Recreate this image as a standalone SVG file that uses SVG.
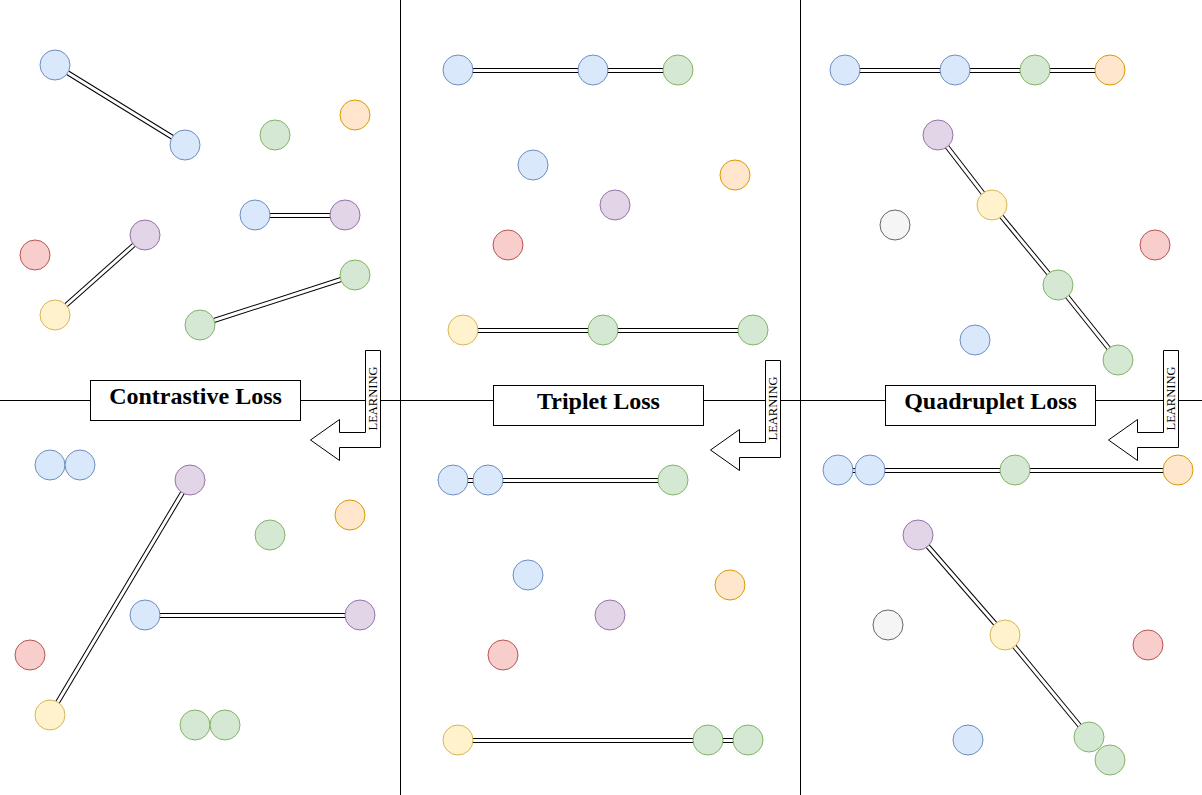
<svg xmlns="http://www.w3.org/2000/svg" xmlns:xlink="http://www.w3.org/1999/xlink" width="1202" height="795" viewBox="0 0 1202 795">
<style>
.sep{stroke:#000;stroke-width:1;fill:none}
.box{fill:#fff;stroke:#000;stroke-width:1}
.title{font-family:"Liberation Serif","Times New Roman",serif;font-weight:bold;font-size:24px;fill:#000;text-anchor:middle}
.arrow{fill:#fff;stroke:#000;stroke-width:1;stroke-linejoin:miter}
.learn{font-family:"Liberation Serif","Times New Roman",serif;font-size:12.5px;fill:#000;text-anchor:middle;dominant-baseline:central}
.lo{stroke:#000;stroke-width:5;fill:none}
.li{stroke:#fff;stroke-width:3;fill:none}
circle{stroke-width:1}
.b{fill:#dae8fc;stroke:#6c8ebf}
.g{fill:#d5e8d4;stroke:#82b366}
.o{fill:#ffe6cc;stroke:#d79b00}
.r{fill:#f8cecc;stroke:#b85450}
.p{fill:#e1d5e7;stroke:#9673a6}
.y{fill:#fff2cc;stroke:#d6b656}
.k{fill:#f5f5f5;stroke:#666666}
</style>
<defs>
<path id="arr" d="M365.5,350.5 H380.5 V447.5 H339.5 V460.5 L310.5,440 L339.5,419.5 V432.5 H365.5 Z"/>
<g id="links">
<path d="M55,65 L185,145"/>
<path d="M255,215.5 L345,215.5"/>
<path d="M145,235 L55,315"/>
<path d="M355,275 L200,325"/>
<path d="M190,480 L50,715"/>
<path d="M145,615.5 L360,615.5"/>
<path d="M458,70.5 L593,70.5 L678,70.5"/>
<path d="M463,330.5 L603,330.5 L753,330.5"/>
<path d="M453,480.5 L488,480.5 L673,480.5"/>
<path d="M458,740.5 L708,740.5 L748,740.5"/>
<path d="M845,70.5 L955,70.5 L1035,70.5 L1110,70.5"/>
<path d="M938,135 L992,205"/>
<path d="M992,205 L1058,285"/>
<path d="M1058,285 L1118,360"/>
<path d="M838,470.5 L870,470.5 L1015,470.5 L1178,470.5"/>
<path d="M918,535 L1005,635"/>
<path d="M1005,635 L1089,737"/>
</g>
</defs>
<rect width="1202" height="795" fill="#fff"/>
<g id="separators">
<line class="sep" x1="0" y1="400.5" x2="1202" y2="400.5"/>
<line class="sep" x1="400.5" y1="0" x2="400.5" y2="795"/>
<line class="sep" x1="800.5" y1="0" x2="800.5" y2="795"/>
</g>
<g id="label-contrastive">
<rect class="box" x="90.5" y="380.5" width="210" height="40"/>
<text class="title" x="195.5" y="404">Contrastive Loss</text>
</g>
<g id="label-triplet">
<rect class="box" x="493.5" y="385.5" width="210" height="40"/>
<text class="title" x="598.5" y="409">Triplet Loss</text>
</g>
<g id="label-quadruplet">
<rect class="box" x="885.5" y="385.5" width="210" height="40"/>
<text class="title" x="990.5" y="409">Quadruplet Loss</text>
</g>
<g id="arrow-1">
<use xlink:href="#arr" class="arrow"/>
<text class="learn" transform="translate(373,398.5) rotate(-90)">LEARNING</text>
</g>
<g id="arrow-2">
<use xlink:href="#arr" class="arrow" transform="translate(400,10)"/>
<text class="learn" transform="translate(773,408.5) rotate(-90)">LEARNING</text>
</g>
<g id="arrow-3">
<use xlink:href="#arr" class="arrow" transform="translate(798,0)"/>
<text class="learn" transform="translate(1171,398.5) rotate(-90)">LEARNING</text>
</g>
<g id="connectors">
<use xlink:href="#links" class="lo"/>
<use xlink:href="#links" class="li"/>
</g>
<g id="c1"><circle class="b" cx="55" cy="65" r="15"/></g>
<g id="c2"><circle class="b" cx="185" cy="145" r="15"/></g>
<g id="c3"><circle class="g" cx="275" cy="135" r="15"/></g>
<g id="c4"><circle class="o" cx="355" cy="115" r="15"/></g>
<g id="c5"><circle class="b" cx="255" cy="215" r="15"/></g>
<g id="c6"><circle class="p" cx="345" cy="215" r="15"/></g>
<g id="c7"><circle class="p" cx="145" cy="235" r="15"/></g>
<g id="c8"><circle class="r" cx="35" cy="255" r="15"/></g>
<g id="c9"><circle class="y" cx="55" cy="315" r="15"/></g>
<g id="c10"><circle class="g" cx="355" cy="275" r="15"/></g>
<g id="c11"><circle class="g" cx="200" cy="325" r="15"/></g>
<g id="c12"><circle class="b" cx="50" cy="465" r="15"/></g>
<g id="c13"><circle class="b" cx="80" cy="465" r="15"/></g>
<g id="c14"><circle class="p" cx="190" cy="480" r="15"/></g>
<g id="c15"><circle class="o" cx="350" cy="515" r="15"/></g>
<g id="c16"><circle class="g" cx="270" cy="535" r="15"/></g>
<g id="c17"><circle class="b" cx="145" cy="615" r="15"/></g>
<g id="c18"><circle class="p" cx="360" cy="615" r="15"/></g>
<g id="c19"><circle class="r" cx="30" cy="655" r="15"/></g>
<g id="c20"><circle class="y" cx="50" cy="715" r="15"/></g>
<g id="c21"><circle class="g" cx="195" cy="725" r="15"/></g>
<g id="c22"><circle class="g" cx="225" cy="725" r="15"/></g>
<g id="t1"><circle class="b" cx="458" cy="70" r="15"/></g>
<g id="t2"><circle class="b" cx="593" cy="70" r="15"/></g>
<g id="t3"><circle class="g" cx="678" cy="70" r="15"/></g>
<g id="t4"><circle class="b" cx="533" cy="165" r="15"/></g>
<g id="t5"><circle class="o" cx="735" cy="175" r="15"/></g>
<g id="t6"><circle class="p" cx="615" cy="205" r="15"/></g>
<g id="t7"><circle class="r" cx="508" cy="245" r="15"/></g>
<g id="t8"><circle class="y" cx="463" cy="330" r="15"/></g>
<g id="t9"><circle class="g" cx="603" cy="330" r="15"/></g>
<g id="t10"><circle class="g" cx="753" cy="330" r="15"/></g>
<g id="t11"><circle class="b" cx="453" cy="480" r="15"/></g>
<g id="t12"><circle class="b" cx="488" cy="480" r="15"/></g>
<g id="t13"><circle class="g" cx="673" cy="480" r="15"/></g>
<g id="t14"><circle class="b" cx="528" cy="575" r="15"/></g>
<g id="t15"><circle class="o" cx="730" cy="585" r="15"/></g>
<g id="t16"><circle class="p" cx="610" cy="615" r="15"/></g>
<g id="t17"><circle class="r" cx="503" cy="655" r="15"/></g>
<g id="t18"><circle class="y" cx="458" cy="740" r="15"/></g>
<g id="t19"><circle class="g" cx="708" cy="740" r="15"/></g>
<g id="t20"><circle class="g" cx="748" cy="740" r="15"/></g>
<g id="q1"><circle class="b" cx="845" cy="70" r="15"/></g>
<g id="q2"><circle class="b" cx="955" cy="70" r="15"/></g>
<g id="q3"><circle class="g" cx="1035" cy="70" r="15"/></g>
<g id="q4"><circle class="o" cx="1110" cy="70" r="15"/></g>
<g id="q5"><circle class="p" cx="938" cy="135" r="15"/></g>
<g id="q6"><circle class="y" cx="992" cy="205" r="15"/></g>
<g id="q7"><circle class="k" cx="895" cy="225" r="15"/></g>
<g id="q8"><circle class="r" cx="1155" cy="245" r="15"/></g>
<g id="q9"><circle class="g" cx="1058" cy="285" r="15"/></g>
<g id="q10"><circle class="b" cx="975" cy="340" r="15"/></g>
<g id="q11"><circle class="g" cx="1118" cy="360" r="15"/></g>
<g id="q12"><circle class="b" cx="838" cy="470" r="15"/></g>
<g id="q13"><circle class="b" cx="870" cy="470" r="15"/></g>
<g id="q14"><circle class="g" cx="1015" cy="470" r="15"/></g>
<g id="q15"><circle class="o" cx="1178" cy="470" r="15"/></g>
<g id="q16"><circle class="p" cx="918" cy="535" r="15"/></g>
<g id="q17"><circle class="k" cx="888" cy="625" r="15"/></g>
<g id="q18"><circle class="y" cx="1005" cy="635" r="15"/></g>
<g id="q19"><circle class="r" cx="1148" cy="645" r="15"/></g>
<g id="q20"><circle class="b" cx="968" cy="740" r="15"/></g>
<g id="q21"><circle class="g" cx="1089" cy="737" r="15"/></g>
<g id="q22"><circle class="g" cx="1110" cy="760" r="15"/></g>
</svg>
